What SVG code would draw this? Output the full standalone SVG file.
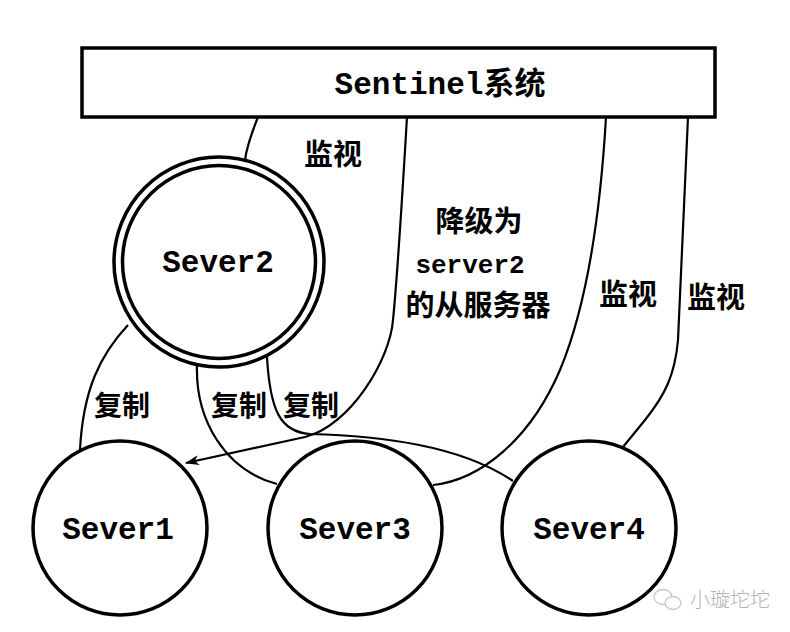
<svg xmlns="http://www.w3.org/2000/svg" width="790" height="632" viewBox="0 0 790 632">
<style>
.box{fill:#fff;stroke:#000;stroke-width:3.5}
.node{fill:#fff;stroke:#000;stroke-width:3.5}
.ring{fill:none;stroke:#000;stroke-width:3.5}
.edge{fill:none;stroke:#000;stroke-width:2.2}
.mono{font-family:"Liberation Mono","Noto Sans CJK SC",monospace;font-weight:bold;fill:#000}
.cjk{font-family:"Noto Sans CJK SC","Noto Sans CJK TC",sans-serif;font-weight:bold;fill:#000}
.wm{font-family:"Noto Sans CJK SC",sans-serif;font-weight:300;fill:#b4b4b4}
</style>
<defs>
<marker id="arr" markerWidth="14" markerHeight="10" refX="13" refY="5" orient="auto" markerUnits="userSpaceOnUse">
<path d="M0,0 L14,5 L0,10 L4,5 Z" fill="#000"/>
</marker>
</defs>
<rect width="790" height="632" fill="#fff"/>
<g id="connectors">
<path class="edge" d="M258,117 C252,132 247,145 245,160"/>
<path class="edge" d="M407,117 C402,200 398,270 393,320 C390,360 350,426 305,437 L186,463" marker-end="url(#arr)"/>
<path class="edge" d="M606,117 C600,220 585,310 560,370 C530,440 480,480 433,485"/>
<path class="edge" d="M688,117 L678,340 C675,375 665,395 645,420 L623,447"/>
<path class="edge" d="M128,325 C100,355 83,390 80,450"/>
<path class="edge" d="M197,364 C195,420 225,470 277,484"/>
<path class="edge" d="M267,357 C270,410 280,432 310,434 C380,436 460,445 513,481"/>
</g>
<g id="sentinel">
<rect class="box" x="82" y="48" width="633" height="69"/>
<text class="mono" x="440" y="94" font-size="31" text-anchor="middle">Sentinel<tspan class="cjk">系统</tspan></text>
</g>
<g id="sever2">
<circle class="node" cx="219" cy="262" r="105"/>
<circle class="ring" cx="219" cy="262" r="96.5"/>
<text class="mono" x="218" y="272" font-size="31" text-anchor="middle">Sever2</text>
</g>
<g id="sever1">
<circle class="node" cx="120" cy="528" r="87"/>
<text class="mono" x="118" y="539" font-size="31" text-anchor="middle">Sever1</text>
</g>
<g id="sever3">
<circle class="node" cx="355" cy="528" r="87"/>
<text class="mono" x="355" y="539" font-size="31" text-anchor="middle">Sever3</text>
</g>
<g id="sever4">
<circle class="node" cx="589" cy="528" r="87"/>
<text class="mono" x="589" y="539" font-size="31" text-anchor="middle">Sever4</text>
</g>
<g id="labels">
<text class="cjk" x="333" y="165" font-size="29" text-anchor="middle">监视</text>
<text class="cjk" x="479" y="232" font-size="29" text-anchor="middle">降级为</text>
<text class="mono" x="470" y="273" font-size="26" text-anchor="middle">server2</text>
<text class="cjk" x="478" y="316" font-size="29" text-anchor="middle">的从服务器</text>
<text class="cjk" x="628" y="305" font-size="29" text-anchor="middle">监视</text>
<text class="cjk" x="716" y="308" font-size="29" text-anchor="middle">监视</text>
<text class="cjk" x="122" y="416" font-size="28" text-anchor="middle">复制</text>
<text class="cjk" x="239" y="416" font-size="28" text-anchor="middle">复制</text>
<text class="cjk" x="311" y="416" font-size="28" text-anchor="middle">复制</text>
</g>
<g id="watermark">
<ellipse cx="663" cy="597" rx="9" ry="7.5" fill="none" stroke="#c8c8c8" stroke-width="1.3"/>
<ellipse cx="673" cy="603" rx="8" ry="6.5" fill="#fff" stroke="#c8c8c8" stroke-width="1.3"/>
<text class="wm" x="690" y="607" font-size="20">小璇坨坨</text>
</g>
</svg>
